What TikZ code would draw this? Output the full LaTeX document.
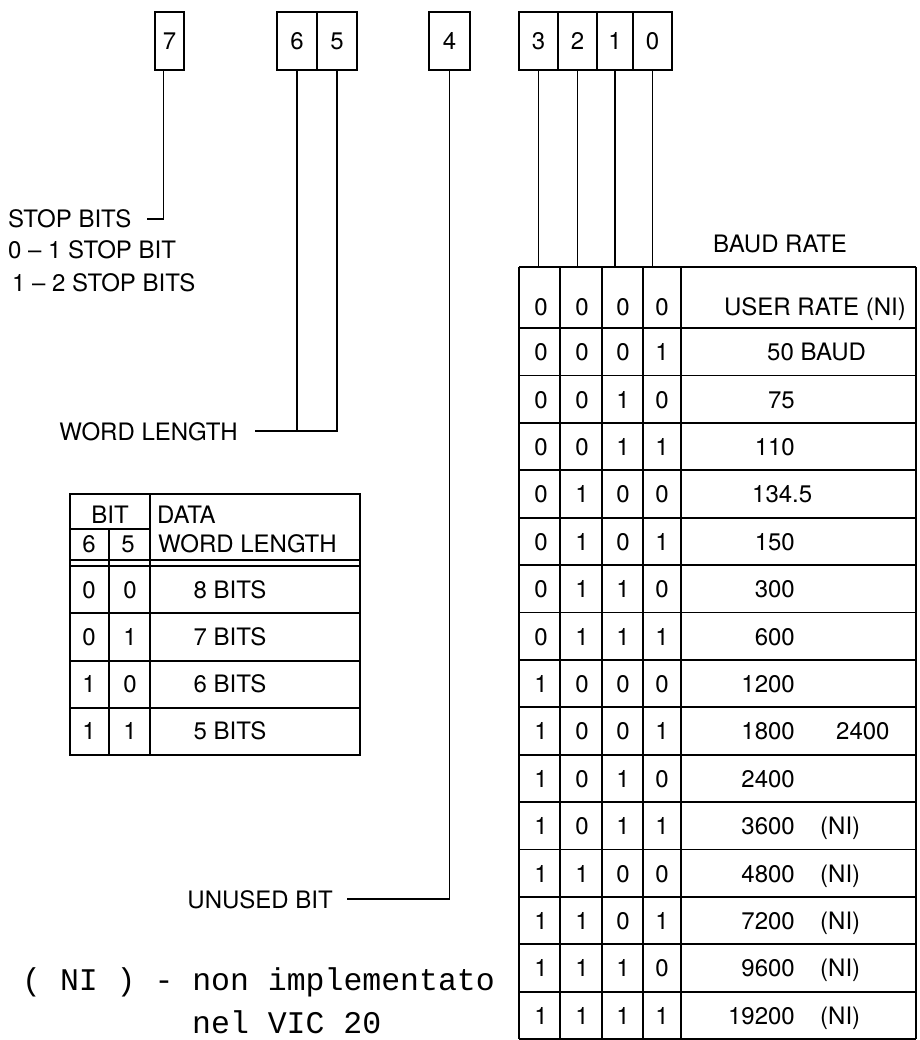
\documentclass[tikz,border=0pt]{standalone}
\usepackage{fontspec}
\setmainfont{TeX Gyre Heros}
\newfontfamily\typefont{Liberation Mono}
\usetikzlibrary{positioning}
\newcommand{\lblsize}{\fontsize{24}{28}\selectfont}
\tikzset{
  bitbox/.style = {draw, line width=1.8pt, minimum height=58pt, inner sep=0pt, outer sep=0pt, font=\lblsize},
  leadln/.style = {line width=1.7pt},
  gridln/.style = {line width=1.8pt},
  txt/.style    = {inner sep=0pt, font=\lblsize},
  mono/.style   = {inner sep=0pt, anchor=base west, font=\typefont\fontsize{31.5}{36}\selectfont}
}

\begin{document}
\begin{tikzpicture}[x=1pt, y=-1pt]
  \useasboundingbox (0,0) rectangle (919,1040);
  % register bits
  \node[bitbox, minimum width=29pt, anchor=north west] (b7) at (155,12) {7};
  \node[bitbox, minimum width=40pt, anchor=north west] (b6) at (277,12) {6};
  \node[bitbox, minimum width=40pt, right=0pt of b6] (b5) {5};
  \node[bitbox, minimum width=41pt, anchor=north west] (b4) at (429,12) {4};
  \node[bitbox, minimum width=39pt, anchor=north west] (b3) at (519,12) {3};
  \node[bitbox, minimum width=39pt, right=0pt of b3] (b2) {2};
  \node[bitbox, minimum width=36pt, right=0pt of b2] (b1) {1};
  \node[bitbox, minimum width=39pt, right=0pt of b1] (b0) {0};

  % labels on the left
  \node[txt, anchor=base west] (stop) at (8,228) {STOP BITS};
  \node[txt, anchor=base west] (stop0) at (8,259) {0 -- 1 STOP BIT};
  \node[txt, anchor=base west] (stop1) at (12,291) {1 -- 2 STOP BITS};
  \node[txt, anchor=base east] (wlen) at (238,440) {WORD LENGTH};
  \node[txt, anchor=base east] (unused) at (333,908) {UNUSED BIT};
  \node[txt, anchor=base west] (baud) at (713,253) {BAUD RATE};

  \draw[leadln] ([xshift=-6pt]b7.south) |- ([xshift=16pt]stop.east);
  \draw[leadln] (b5.south) |- ([xshift=17pt]wlen.east);
  \draw[leadln] (b6.south) -- (b6.south |- wlen.east);
  \draw[leadln] (b4.south) |- ([xshift=14pt]unused.east);

  % baud rate table
  \coordinate (tl) at (519,267);
  \foreach \b in {3,2,1,0}
    { \draw[leadln] (b\b.south) -- (b\b.south |- tl); }
  \foreach \x in {519,560,602,643,681,916}
    { \draw[gridln] (\x,267) -- (\x,1039); }
  \draw[gridln] (tl) -- (916,267);
  \foreach \k in {0,...,15}
    { \draw[gridln] (519,{328+47.4*\k}) -- (916,{328+47.4*\k}); }
  \foreach \p/\q/\s/\t [count=\r] in {0/0/0/0, 0/0/0/1, 0/0/1/0, 0/0/1/1,
      0/1/0/0, 0/1/0/1, 0/1/1/0, 0/1/1/1, 1/0/0/0, 1/0/0/1, 1/0/1/0,
      1/0/1/1, 1/1/0/0, 1/1/0/1, 1/1/1/0, 1/1/1/1}
  {
    \pgfmathsetmacro\yb{\r==1 ? 315 : 337+47.4*(\r-1.5)}
    \node[txt, anchor=base] (c\r-3) at (541,\yb) {\p};
    \node[txt, anchor=base] (c\r-2) at (582,\yb) {\q};
    \node[txt, anchor=base] (c\r-1) at (623,\yb) {\s};
    \node[txt, anchor=base] (c\r-0) at (662,\yb) {\t};
  }
  \node[txt, anchor=base] (rate1) at (815,315) {USER RATE (NI)};
  \node[txt, anchor=base west] (rate2) at (767,360.7) {50 BAUD};
  \node[txt, anchor=base west] (rate5) at (752,502.9) {134.5};
  \foreach \r/\v in {3/75, 4/110, 6/150, 7/300, 8/600, 9/1200, 10/1800, 11/2400,
      12/3600, 13/4800, 14/7200, 15/9600, 16/19200}
  {
    \pgfmathsetmacro\yb{337+47.4*(\r-1.5)}
    \node[txt, anchor=base east] (rate\r) at (795,\yb) {\v};
  }
  \node[txt, anchor=base west] (alt10) at (836,739.9) {2400};
  \foreach \r in {12,...,16}
  {
    \pgfmathsetmacro\yb{337+47.4*(\r-1.5)}
    \node[txt, anchor=base west] (ni\r) at (820,\yb) {(NI)};
  }

  % word length table
  \draw[gridln] (70,494) rectangle (360,755);
  \draw[gridln] (150,494) -- (150,755);
  \draw[gridln] (109,529) -- (109,755);
  \draw[gridln] (70,529) -- (150,529);
  \foreach \y in {560,566,613,661,708}
    { \draw[gridln] (70,\y) -- (360,\y); }
  \node[txt, anchor=base] (bithd) at (110,523) {BIT};
  \node[txt, anchor=base west] (datahd) at (157,523) {DATA};
  \node[txt, anchor=base west] (wordhd) at (158,552) {WORD LENGTH};
  \node[txt, anchor=base] (hd6) at (89,552) {6};
  \node[txt, anchor=base] (hd5) at (128,552) {5};
  \foreach \p/\q/\n [count=\r] in {0/0/8, 0/1/7, 1/0/6, 1/1/5}
  {
    \pgfmathsetmacro\yb{598.5+47*(\r-1)}
    \node[txt, anchor=base] (w\r-6) at (89,\yb) {\p};
    \node[txt, anchor=base] (w\r-5) at (130,\yb) {\q};
    \node[txt, anchor=base] (w\r-len) at (230,\yb) {\n\ BITS};
  }

  % footnote
  \node[mono] (ninote) at (22,990) {( NI ) - non implementato};
  \node[mono] (vicnote) at (192,1033) {nel VIC 20};
\end{tikzpicture}
\end{document}
